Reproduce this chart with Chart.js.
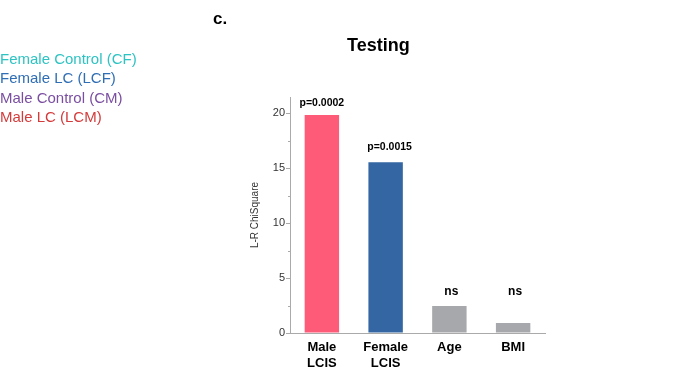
<!DOCTYPE html>
<html>
<head>
<meta charset="utf-8">
<script src="https://cdn.jsdelivr.net/npm/chart.js@4/dist/chart.umd.min.js"></script>
<style>
  body { margin: 0; background: #fff; font-family: "Liberation Sans", Arial, sans-serif; }
  #wrap { position: relative; width: 685px; height: 382px; }
  #myChart { position: absolute; left: 0; top: 0; }
  .txt { position: absolute; white-space: nowrap; }
  .legend { left: 0; font-size: 15px; line-height: 19.5px; }
</style>
</head>
<body>
<div id="wrap">
  <canvas id="myChart" width="685" height="382"></canvas>
  <div class="txt" style="left:213px; top:9px; font-size:17px; font-weight:bold;">c.</div>
  <div class="txt" style="left:347px; top:35px; font-size:18px; font-weight:bold;">Testing</div>
  <div class="txt legend" style="top:49px; color:#2ec3c3;">Female Control (CF)</div>
  <div class="txt legend" style="top:68px; color:#2f6eb5;">Female LC (LCF)</div>
  <div class="txt legend" style="top:88px; color:#7a4ea1;">Male Control (CM)</div>
  <div class="txt legend" style="top:107px; color:#d43b3b;">Male LC (LCM)</div>
</div>
<script>
const categories = [ ['Male', 'LCIS'], ['Female', 'LCIS'], 'Age', 'BMI' ];
const chiSquare = [ 19.85, 15.55, 2.45, 0.9 ];
const pLabels = [ 'p=0.0002', 'p=0.0015', 'ns', 'ns' ];
const barColors = [ '#fe5b78', '#3366a2', '#a7a8ab', '#a7a8ab' ];

// p-value / ns text above the bars, plus short minor ticks on y
const barLabels = {
    id: 'barLabels',
    afterDatasetsDraw( chart ) {
        const c = chart.ctx;
        const meta = chart.getDatasetMeta( 0 );
        const y = chart.scales.y;
        c.save();
        c.fillStyle = '#000';
        c.textAlign = 'center';
        c.textBaseline = 'middle';
        meta.data.forEach( ( bar, i ) => {
            const txt = pLabels[i];
            if ( txt === 'ns' ) {
                c.font = 'bold 12px "Liberation Sans", Arial, sans-serif';
                c.fillText( txt, bar.x + 2, y.getPixelForValue( 3.75 ) );
            } else {
                c.font = 'bold 10.5px "Liberation Sans", Arial, sans-serif';
                c.fillText( txt, bar.x + i * 4, bar.y - 12 + i * -3 );
            }
        } );
        // minor ticks
        c.strokeStyle = '#aaaaaa';
        c.lineWidth = 1;
        y.ticks.forEach( t => {
            if ( t.value % 5 !== 0 ) {
                const py = Math.round( y.getPixelForValue( t.value ) ) + 0.5;
                c.beginPath();
                c.moveTo( y.right - 2, py );
                c.lineTo( y.right, py );
                c.stroke();
            }
        } );
        c.restore();
    }
};

const ctx = document.getElementById( 'myChart' ).getContext( '2d' );

var myChart = new Chart( ctx, {
    type: 'bar',
    data: {
        labels: categories,
        datasets: [
            {
                label: 'L-R ChiSquare',
                backgroundColor: barColors,
                data: chiSquare,
                categoryPercentage: 1,
                barPercentage: 0.54
            }
        ]
    },
    options: {
        responsive: false,
        animation: false,
        layout: { padding: { left: 240, right: 140, top: 97, bottom: 0 } },
        plugins: {
            legend: { display: false },
            tooltip: { enabled: false }
        },
        scales: {
            x: {
                afterFit( scale ) { scale.height = 49; },
                grid: { drawOnChartArea: false, drawTicks: false },
                border: { color: '#aaaaaa' },
                ticks: {
                    padding: 6,
                    color: '#000',
                    font: { family: '"Liberation Sans", Arial, sans-serif', size: 13, weight: 'bold', lineHeight: 1.25 }
                }
            },
            y: {
                min: 0,
                max: 21.5,
                afterFit( scale ) { scale.width = 50; },
                afterBuildTicks( scale ) {
                    scale.ticks = scale.ticks.filter( t => t.value <= 20 );
                },
                grid: {
                    drawOnChartArea: false,
                    tickLength: 4,
                    tickColor: c => ( c.tick && c.tick.value % 5 === 0 ? '#aaaaaa' : 'rgba(0,0,0,0)' )
                },
                border: { color: '#aaaaaa' },
                ticks: {
                    stepSize: 2.5,
                    padding: 1,
                    color: '#333',
                    font: { family: '"Liberation Sans", Arial, sans-serif', size: 11 },
                    callback: v => ( v % 5 === 0 ? v : '' )
                },
                title: {
                    display: true,
                    text: 'L-R ChiSquare',
                    color: '#333',
                    padding: { top: 9, bottom: 0 },
                    font: { family: '"Liberation Sans", Arial, sans-serif', size: 10 }
                }
            }
        }
    },
    plugins: [ barLabels ]
} );
</script>
</body>
</html>
